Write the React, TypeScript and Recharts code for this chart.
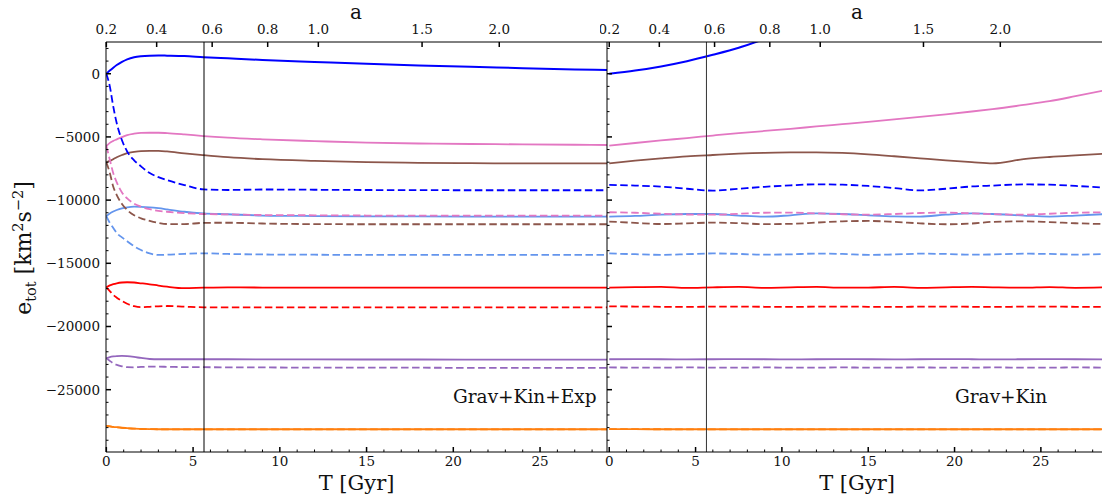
import React from 'react';
import { LineChart, Line, XAxis, YAxis, ReferenceLine } from 'recharts';

const FONT = "'DejaVu Serif', serif";

// ---------- Left panel (Grav+Kin+Exp) ----------
const tL = [0, 0.2, 0.4, 0.6, 0.9, 1.2, 1.6, 2.0, 2.5, 3.0, 3.5, 4.5, 5.6, 7, 9, 12, 15, 18, 21, 24, 27, 28.86];
const blueSolidL = [0, 250, 480, 690, 940, 1140, 1310, 1390, 1430, 1440, 1430, 1400, 1310, 1220, 1090, 930, 780, 660, 560, 440, 340, 290];
const blueDashL = [0, -1000, -2610, -3920, -5260, -6150, -6850, -7330, -7860, -8180, -8420, -8810, -9150, -9200, -9160, -9180, -9200, -9210, -9220, -9220, -9220, -9220];
const pinkSolidL = [-5720, -5470, -5310, -5190, -5020, -4850, -4740, -4680, -4670, -4670, -4700, -4800, -4930, -5060, -5190, -5330, -5450, -5520, -5560, -5590, -5620, -5640];
const pinkDashL = [-5720, -6800, -7880, -8600, -9400, -9870, -10280, -10520, -10720, -10850, -10920, -11030, -11100, -11130, -11180, -11200, -11220, -11230, -11230, -11230, -11230, -11230];
const brownSolidL = [-7010, -6900, -6760, -6610, -6430, -6280, -6190, -6130, -6110, -6110, -6150, -6300, -6440, -6600, -6760, -6900, -7000, -7050, -7080, -7090, -7090, -7090];
const brownDashL = [-7010, -7850, -8940, -9600, -10300, -10780, -11200, -11440, -11640, -11800, -11890, -11900, -11800, -11790, -11850, -11900, -11910, -11910, -11910, -11910, -11910, -11910];
const cornSolidL = [-11260, -11050, -10900, -10780, -10650, -10570, -10520, -10530, -10570, -10640, -10730, -10920, -11050, -11120, -11220, -11260, -11280, -11290, -11300, -11310, -11310, -11310];
const cornDashL = [-11260, -11800, -12200, -12600, -12950, -13250, -13650, -13950, -14220, -14340, -14320, -14250, -14210, -14260, -14300, -14320, -14340, -14340, -14340, -14340, -14340, -14340];
const redSolidL = [-16900, -16750, -16650, -16580, -16520, -16500, -16520, -16580, -16660, -16760, -16850, -16970, -16930, -16900, -16920, -16930, -16930, -16930, -16930, -16930, -16930, -16930];
const redDashL = [-16900, -17200, -17500, -17720, -17980, -18200, -18390, -18470, -18440, -18400, -18380, -18430, -18480, -18480, -18480, -18480, -18480, -18480, -18480, -18480, -18480, -18480];
const purpleSolidL = [-22510, -22420, -22370, -22340, -22330, -22350, -22410, -22490, -22570, -22590, -22590, -22590, -22590, -22590, -22600, -22600, -22610, -22610, -22620, -22620, -22620, -22620];
const purpleDashL = [-22510, -22720, -22910, -23030, -23150, -23220, -23230, -23200, -23180, -23180, -23190, -23210, -23220, -23230, -23240, -23250, -23250, -23260, -23270, -23270, -23280, -23280];
const orangeSolidL = [-27870, -27900, -27940, -27970, -28010, -28040, -28080, -28100, -28120, -28130, -28130, -28130, -28130, -28130, -28130, -28130, -28130, -28130, -28130, -28130, -28130, -28130];
const orangeDashL = [-27870, -27910, -27950, -27980, -28020, -28050, -28080, -28110, -28120, -28130, -28135, -28135, -28135, -28135, -28135, -28135, -28135, -28135, -28135, -28135, -28135, -28135];

// ---------- Right panel (Grav+Kin) ----------
const tR = [0, 1.5, 3, 4.5, 6, 7.5, 9, 10.5, 12, 13.5, 15, 16.5, 18, 19.5, 21, 22.2, 24, 25.5, 27, 28.83];
const blueSolidR = [0, 250, 580, 990, 1500, 2060, 2750, 3500, 4300, null, null, null, null, null, null, null, null, null, null, null];
const blueDashR = [-8800, -8850, -8930, -9100, -9250, -9100, -8950, -8830, -8750, -8780, -8880, -9050, -9230, -9100, -8920, -8850, -8760, -8780, -8880, -9020];
const pinkSolidR = [-5690, -5480, -5280, -5090, -4890, -4700, -4530, -4360, -4170, -3990, -3810, -3620, -3420, -3210, -2990, -2800, -2470, -2170, -1780, -1280];
const pinkDashR = [-10960, -11000, -11080, -11140, -11150, -11080, -11000, -10990, -11050, -11120, -11150, -11100, -11020, -10990, -11050, -11110, -11150, -11080, -11000, -10970];
const brownSolidR = [-7090, -6880, -6700, -6540, -6430, -6330, -6260, -6230, -6220, -6270, -6380, -6530, -6690, -6850, -6990, -7090, -6760, -6590, -6460, -6320];
const brownDashR = [-11700, -11800, -11890, -11840, -11780, -11820, -11900, -11880, -11780, -11680, -11650, -11720, -11840, -11910, -11850, -11720, -11680, -11740, -11830, -11900];
const cornSolidR = [-11310, -11250, -11150, -11100, -11100, -11220, -11310, -11200, -11050, -11100, -11200, -11280, -11300, -11150, -11050, -11100, -11220, -11300, -11220, -11100];
const cornDashR = [-14220, -14280, -14330, -14280, -14220, -14260, -14320, -14290, -14230, -14260, -14330, -14300, -14240, -14260, -14320, -14300, -14240, -14260, -14310, -14260];
const redSolidR = [-16920, -16880, -16860, -16950, -16900, -16870, -16940, -16900, -16870, -16930, -16920, -16870, -16940, -16900, -16870, -16900, -16930, -16880, -16940, -16900];
const redDashR = [-18410, -18420, -18440, -18450, -18430, -18420, -18440, -18450, -18430, -18420, -18440, -18450, -18430, -18420, -18440, -18450, -18430, -18420, -18440, -18440];
const purpleSolidR = [-22590, -22580, -22590, -22600, -22590, -22580, -22590, -22600, -22590, -22580, -22590, -22600, -22590, -22580, -22590, -22600, -22590, -22580, -22590, -22600];
const purpleDashR = [-23240, -23250, -23250, -23240, -23250, -23250, -23240, -23250, -23250, -23240, -23250, -23250, -23240, -23250, -23250, -23240, -23250, -23250, -23240, -23250];
const orangeSolidR = [-28120, -28125, -28130, -28130, -28130, -28130, -28130, -28130, -28130, -28130, -28130, -28130, -28130, -28130, -28130, -28130, -28130, -28130, -28130, -28130];
const orangeDashR = [-28120, -28125, -28130, -28135, -28135, -28135, -28135, -28135, -28135, -28135, -28135, -28135, -28135, -28135, -28135, -28135, -28135, -28135, -28135, -28135];

// ---------- Axes ----------
const tTicks = [0, 1, 2, 3, 4, 5, 6, 7, 8, 9, 10, 11, 12, 13, 14, 15, 16, 17, 18, 19, 20, 21, 22, 23, 24, 25, 26, 27, 28];
const yTicks = [-29000, -28000, -27000, -26000, -25000, -24000, -23000, -22000, -21000, -20000, -19000, -18000, -17000, -16000, -15000, -14000, -13000, -12000, -11000, -10000, -9000, -8000, -7000, -6000, -5000, -4000, -3000, -2000, -1000, 0, 1000, 2000];
const aLabels = ['0.2', '0.4', '0.6', '0.8', '1.0', '1.5', '2.0'];
const aTickT = [0, 2.9, 6.1, 9.3, 12.22, 18.2, 22.65];
const Y_DOMAIN: [number, number] = [-29930, 2510];
const T_VLINE = 5.63;

const SERIES = [
  { key: 'os', color: '#ff7f0e', dash: false },
  { key: 'od', color: '#ff7f0e', dash: true },
  { key: 'us', color: '#9467bd', dash: false },
  { key: 'ud', color: '#9467bd', dash: true },
  { key: 'rs', color: '#ff0000', dash: false },
  { key: 'rd', color: '#ff0000', dash: true },
  { key: 'cs', color: '#6495ed', dash: false },
  { key: 'cd', color: '#6495ed', dash: true },
  { key: 'ws', color: '#8c564b', dash: false },
  { key: 'wd', color: '#8c564b', dash: true },
  { key: 'ps', color: '#e377c2', dash: false },
  { key: 'pd', color: '#e377c2', dash: true },
  { key: 'bs', color: '#0000ff', dash: false },
  { key: 'bd', color: '#0000ff', dash: true },
];

const rowsL = tL.map((t, i) => ({
  t,
  bs: blueSolidL[i], bd: blueDashL[i], ps: pinkSolidL[i], pd: pinkDashL[i],
  ws: brownSolidL[i], wd: brownDashL[i], cs: cornSolidL[i], cd: cornDashL[i],
  rs: redSolidL[i], rd: redDashL[i], us: purpleSolidL[i], ud: purpleDashL[i],
  os: orangeSolidL[i], od: orangeDashL[i],
}));
const rowsR = tR.map((t, i) => ({
  t,
  bs: blueSolidR[i], bd: blueDashR[i], ps: pinkSolidR[i], pd: pinkDashR[i],
  ws: brownSolidR[i], wd: brownDashR[i], cs: cornSolidR[i], cd: cornDashR[i],
  rs: redSolidR[i], rd: redDashR[i], us: purpleSolidR[i], ud: purpleDashR[i],
  os: orangeSolidR[i], od: orangeDashR[i],
}));

const fmt = (v: number) => (v < 0 ? '\u2212' + Math.abs(v) : String(v));

const makeYTick = (showLabel: boolean) => (props: any) => {
  const { x, y, payload } = props;
  const v = payload.value;
  const major = v % 5000 === 0;
  return (
    <g>
      <line x1={x} x2={x + (major ? 5 : 2.5)} y1={y} y2={y} stroke="#000" strokeWidth={major ? 1.5 : 1} />
      {showLabel && major && (
        <text x={x - 6} y={y} dy="0.36em" textAnchor="end" fontSize={13.5} fontFamily={FONT} fill="#111">
          {fmt(v)}
        </text>
      )}
    </g>
  );
};

const BottomTick = (props: any) => {
  const { x, y, payload } = props;
  const v = payload.value;
  const major = v % 5 === 0;
  return (
    <g>
      <line x1={x} x2={x} y1={y} y2={y - (major ? 5 : 2.5)} stroke="#000" strokeWidth={major ? 1.5 : 1} />
      {major && (
        <text x={x} y={y + 13.5} textAnchor="middle" fontSize={13.5} fontFamily={FONT} fill="#111">
          {v}
        </text>
      )}
    </g>
  );
};

const TopTick = (props: any) => {
  const { x, y, payload } = props;
  const i = aTickT.indexOf(payload.value);
  return (
    <g>
      <line x1={x} x2={x} y1={y} y2={y + 5} stroke="#000" strokeWidth={1.5} />
      <text x={x} y={y - 8.5} textAnchor="middle" fontSize={13.5} fontFamily={FONT} fill="#111">
        {aLabels[i]}
      </text>
    </g>
  );
};

function Panel(props: {
  rows: any[];
  width: number;
  yWidth: number;
  domain: [number, number];
  yLabels: boolean;
  vColor: string;
}) {
  const { rows, width, yWidth, domain, yLabels, vColor } = props;
  return (
    <LineChart width={width} height={499} data={rows} margin={{ top: 0, right: 0, bottom: 0, left: 0 }}>
      <XAxis
        xAxisId="b"
        dataKey="t"
        type="number"
        orientation="bottom"
        domain={domain}
        allowDataOverflow
        ticks={tTicks}
        interval={0}
        height={47}
        tickSize={0}
        tickMargin={0}
        tickLine={false}
        tick={BottomTick}
        axisLine={{ stroke: '#000', strokeWidth: 1 }}
      />
      <XAxis
        xAxisId="a"
        dataKey="t"
        type="number"
        orientation="top"
        domain={domain}
        allowDataOverflow
        ticks={aTickT}
        interval={0}
        height={42}
        tickSize={0}
        tickMargin={0}
        tickLine={false}
        tick={TopTick}
        axisLine={{ stroke: '#000', strokeWidth: 1 }}
      />
      <YAxis
        yAxisId="y"
        type="number"
        domain={Y_DOMAIN}
        allowDataOverflow
        ticks={yTicks}
        interval={0}
        width={yWidth}
        tickSize={0}
        tickMargin={0}
        tickLine={false}
        tick={makeYTick(yLabels)}
        axisLine={{ stroke: '#000', strokeWidth: 1 }}
      />
      {SERIES.map((s) => (
        <Line
          key={s.key}
          xAxisId="b"
          yAxisId="y"
          dataKey={s.key}
          type="monotone"
          stroke={s.color}
          strokeWidth={s.key === 'bs' ? 2 : 1.8}
          strokeDasharray={s.dash ? '7.5 3.5' : undefined}
          dot={false}
          activeDot={false}
          isAnimationActive={false}
          connectNulls={false}
        />
      ))}
      <ReferenceLine xAxisId="b" yAxisId="y" x={T_VLINE} stroke={vColor} strokeWidth={1} />
    </LineChart>
  );
}

export default function App() {
  const txt = { fontFamily: FONT, fill: '#111' } as const;
  return (
    <div style={{ position: 'absolute', left: 0, top: 0, width: 1102, height: 499, overflow: 'hidden', background: '#fff' }}>
      <div style={{ position: 'absolute', left: 0, top: 0 }}>
        <Panel rows={rowsL} width={607} yWidth={106} domain={[-0.02, 28.86]} yLabels={true} vColor="#000" />
      </div>
      <div style={{ position: 'absolute', left: 600, top: 0 }}>
        <Panel rows={rowsR} width={507} yWidth={7} domain={[-0.13, 28.83]} yLabels={false} vColor="#333" />
      </div>
      <svg width={1102} height={499} style={{ position: 'absolute', left: 0, top: 0, pointerEvents: 'none' }}>
        <text x={356} y={18.5} textAnchor="middle" fontSize={20} {...txt}>a</text>
        <text x={857} y={18.5} textAnchor="middle" fontSize={20} {...txt}>a</text>
        <text x={356.5} y={490} textAnchor="middle" fontSize={21} {...txt}>T [Gyr]</text>
        <text x={857} y={490} textAnchor="middle" fontSize={21} {...txt}>T [Gyr]</text>
        <text x={453} y={402.5} fontSize={18.5} {...txt}>Grav+Kin+Exp</text>
        <text x={955} y={402.5} fontSize={18.5} {...txt}>Grav+Kin</text>
        <text transform="translate(31,248) rotate(-90)" textAnchor="middle" fontSize={22} {...txt}>
          <tspan>e</tspan>
          <tspan fontSize={14.5} dy={5}>tot</tspan>
          <tspan dy={-5}> [km</tspan>
          <tspan fontSize={14.5} dy={-8}>2</tspan>
          <tspan dy={8}>s</tspan>
          <tspan fontSize={14.5} dy={-8}>{'\u22122'}</tspan>
          <tspan dy={8}>]</tspan>
        </text>
      </svg>
    </div>
  );
}
